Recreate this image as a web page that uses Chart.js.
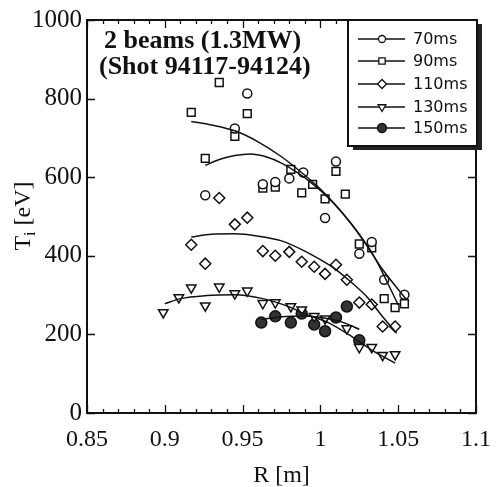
<!DOCTYPE html>
<html>
<head>
<meta charset="utf-8">
<script src="https://cdn.jsdelivr.net/npm/chart.js@4.4.1/dist/chart.umd.min.js"></script>
<style>
  html, body { margin: 0; padding: 0; background: #fff; }
  #wrap { width: 503px; height: 487px; }
</style>
</head>
<body>
<div id="wrap"><canvas id="tiChart" width="503" height="487"></canvas></div>
<script>
// measured points, R [m] and Ti [eV]
var r70 = [0.926, 0.945, 0.953, 0.963, 0.971, 0.980, 0.989, 1.003, 1.010, 1.025, 1.033, 1.041, 1.054];
var t70 = [554, 724, 813, 582, 588, 597, 612, 496, 640, 405, 435, 339, 301];

var r90 = [0.917, 0.926, 0.935, 0.945, 0.953, 0.963, 0.971, 0.981, 0.988, 0.995, 1.003, 1.010, 1.016, 1.025, 1.033, 1.041, 1.048, 1.054];
var t90 = [765, 648, 841, 704, 762, 572, 575, 620, 560, 582, 545, 615, 557, 430, 420, 291, 268, 278];

var r110 = [0.917, 0.926, 0.935, 0.945, 0.953, 0.963, 0.971, 0.980, 0.988, 0.996, 1.003, 1.010, 1.017, 1.025, 1.033, 1.040, 1.048];
var t110 = [428, 380, 547, 480, 497, 412, 400, 410, 385, 372, 354, 377, 339, 281, 276, 220, 220];

var r130 = [0.899, 0.909, 0.917, 0.926, 0.935, 0.945, 0.953, 0.963, 0.971, 0.981, 0.988, 0.996, 1.003, 1.017, 1.025, 1.033, 1.040, 1.048];
var t130 = [256, 294, 319, 273, 321, 304, 311, 279, 281, 271, 263, 246, 240, 215, 167, 167, 147, 149];

var r150 = [0.962, 0.971, 0.981, 0.988, 0.996, 1.003, 1.010, 1.017, 1.025];
var t150 = [230, 246, 230, 253, 225, 208, 243, 271, 185];

// fitted curves
var fitR70 = [0.917, 0.930, 0.945, 0.960, 0.975, 0.990, 1.000, 1.010, 1.020, 1.030, 1.040, 1.055];
var fitT70 = [742, 733, 718, 690, 652, 605, 570, 528, 480, 425, 365, 290];
var fitR90 = [0.926, 0.935, 0.945, 0.955, 0.965, 0.975, 0.985, 0.995, 1.005, 1.015, 1.025, 1.035, 1.050];
var fitT90 = [630, 645, 655, 659, 652, 636, 612, 583, 548, 505, 455, 395, 275];
var fitR110 = [0.917, 0.930, 0.945, 0.960, 0.975, 0.990, 1.000, 1.010, 1.020, 1.030, 1.040, 1.049];
var fitT110 = [448, 455, 456, 450, 438, 412, 390, 365, 332, 295, 245, 203];
var fitR130 = [0.900, 0.910, 0.927, 0.945, 0.963, 0.980, 0.990, 1.005, 1.020, 1.033, 1.048];
var fitT130 = [278, 291, 299, 301, 291, 270, 252, 230, 195, 160, 127];
var fitR150 = [0.962, 0.975, 0.990, 1.005, 1.015, 1.025];
var fitT150 = [238, 245, 247, 240, 230, 213];

var labels = ['70ms', '90ms', '110ms', '130ms', '150ms'];
var xTickVals = [0.85, 0.9, 0.95, 1, 1.05, 1.1];
var xTickText = ['0.85', '0.9', '0.95', '1', '1.05', '1.1'];
var yTickVals = [0, 200, 400, 600, 800, 1000];

var pts = function(rs, ts) {
  var out = [];
  for (var i = 0; i < rs.length; i++) out.push({x: rs[i], y: ts[i]});
  return out;
};

var markerStyle = [
  {pointStyle: 'circle', radius: 4.5, fill: '#fff', rot: 0},
  {pointStyle: 'rect', radius: 5.5, fill: '#fff', rot: 0},
  {pointStyle: 'rectRot', radius: 5.5, fill: '#fff', rot: 0},
  {pointStyle: 'triangle', radius: 5.5, fill: '#fff', rot: 180},
  {pointStyle: 'circle', radius: 5.5, fill: '#333', rot: 0}
];

var datasets = [];
var series = [[r70, t70], [r90, t90], [r110, t110], [r130, t130], [r150, t150]];
var fits = [[fitR70, fitT70], [fitR90, fitT90], [fitR110, fitT110], [fitR130, fitT130], [fitR150, fitT150]];
for (var k = 0; k < series.length; k++) {
  datasets.push({
    label: labels[k] + ' fit',
    data: pts(fits[k][0], fits[k][1]),
    showLine: true,
    borderColor: '#111',
    borderWidth: 1.5,
    pointRadius: 0,
    cubicInterpolationMode: 'monotone',
    fill: false
  });
}
for (var k = 0; k < series.length; k++) {
  var m = markerStyle[k];
  datasets.push({
    label: labels[k],
    data: pts(series[k][0], series[k][1]),
    showLine: false,
    pointStyle: m.pointStyle,
    pointRadius: m.radius,
    pointRotation: m.rot,
    pointBackgroundColor: m.fill,
    pointBorderColor: '#111',
    pointBorderWidth: 1.5
  });
}

var serif = "'Liberation Serif', 'Times New Roman', serif";

// frame, inward ticks, legend box and texts
var decorations = {
  id: 'decorations',
  afterDraw: function(chart) {
    var ctx = chart.ctx;
    var a = chart.chartArea;
    var xs = chart.scales.x, ys = chart.scales.y;
    ctx.save();
    ctx.strokeStyle = '#111';
    ctx.lineWidth = 2;
    ctx.strokeRect(a.left, a.top, a.right - a.left, a.bottom - a.top);

    ctx.lineWidth = 1.3;
    ctx.beginPath();
    for (var i = 85; i <= 110; i++) {
      var px = Math.round(xs.getPixelForValue(i / 100)) + 0.5;
      var len = (i % 5 == 0) ? 8 : 4;
      ctx.moveTo(px, a.bottom); ctx.lineTo(px, a.bottom - len);
      ctx.moveTo(px, a.top); ctx.lineTo(px, a.top + len);
    }
    for (var j = 0; j < yTickVals.length; j++) {
      var py = Math.round(ys.getPixelForValue(yTickVals[j])) + 0.5;
      ctx.moveTo(a.left, py); ctx.lineTo(a.left + 8, py);
      ctx.moveTo(a.right, py); ctx.lineTo(a.right - 8, py);
    }
    ctx.stroke();

    // inner title
    ctx.fillStyle = '#111';
    ctx.font = "bold 26px " + serif;
    ctx.textAlign = 'left';
    ctx.textBaseline = 'alphabetic';
    ctx.fillText('2 beams (1.3MW)', 104, 48);
    ctx.fillText('(Shot 94117-94124)', 99, 74);

    // legend
    var bx = 348, by = 20, bw = 129, bh = 126;
    ctx.fillStyle = '#222';
    ctx.fillRect(bx + 5, by + 4, bw, bh);
    ctx.fillStyle = '#fff';
    ctx.fillRect(bx, by, bw, bh);
    ctx.lineWidth = 2;
    ctx.strokeStyle = '#111';
    ctx.strokeRect(bx, by, bw, bh);
    var rows = [39, 61, 84, 107, 128];
    ctx.font = "16px 'DejaVu Sans', sans-serif";
    ctx.textBaseline = 'middle';
    for (var r = 0; r < rows.length; r++) {
      var ds = chart.data.datasets[5 + r];
      ctx.lineWidth = 1.3;
      ctx.beginPath();
      ctx.moveTo(358, rows[r]); ctx.lineTo(405, rows[r]);
      ctx.stroke();
      ctx.fillStyle = ds.pointBackgroundColor;
      Chart.helpers.drawPoint(ctx, {
        pointStyle: ds.pointStyle,
        rotation: ds.pointRotation,
        radius: ds.pointRadius - 1,
        borderWidth: 1.3
      }, 382, rows[r]);
      ctx.fillStyle = '#111';
      ctx.fillText(ds.label, 413, rows[r] + 1);
    }

    // axis titles
    ctx.fillStyle = '#111';
    ctx.textBaseline = 'alphabetic';
    ctx.font = "24px " + serif;
    ctx.textAlign = 'center';
    ctx.fillText('R [m]', (a.left + a.right) / 2, 482);

    ctx.save();
    ctx.translate(30, 216);
    ctx.rotate(-Math.PI / 2);
    ctx.textAlign = 'left';
    ctx.font = "24px " + serif;
    var wT = ctx.measureText('T').width;
    ctx.font = "16px " + serif;
    var wi = ctx.measureText('i').width;
    ctx.font = "24px " + serif;
    var wRest = ctx.measureText(' [eV]').width;
    var x0 = -(wT + wi + wRest) / 2;
    ctx.fillText('T', x0, 0);
    ctx.font = "16px " + serif;
    ctx.fillText('i', x0 + wT, 5);
    ctx.font = "24px " + serif;
    ctx.fillText(' [eV]', x0 + wT + wi, 0);
    ctx.restore();

    ctx.restore();
  }
};

new Chart(document.getElementById('tiChart').getContext('2d'), {
  type: 'scatter',
  data: { datasets: datasets },
  options: {
    responsive: false,
    animation: false,
    layout: { padding: { left: 0, right: 23, top: 19, bottom: 0 } },
    plugins: {
      legend: { display: false },
      tooltip: { enabled: false }
    },
    scales: {
      x: {
        type: 'linear',
        min: 0.85,
        max: 1.1,
        grid: { display: false, drawTicks: false },
        border: { display: false },
        afterBuildTicks: function(scale) {
          scale.ticks = xTickVals.map(function(v) { return {value: v}; });
        },
        afterFit: function(scale) { scale.height = 74; },
        ticks: {
          color: '#111',
          padding: 12,
          maxRotation: 0,
          font: { family: serif, size: 24 },
          callback: function(v) {
            var idx = xTickVals.indexOf(Math.round(v * 100) / 100);
            return idx >= 0 ? xTickText[idx] : '';
          }
        }
      },
      y: {
        type: 'linear',
        min: 0,
        max: 1000,
        grid: { display: false, drawTicks: false },
        border: { display: false },
        afterBuildTicks: function(scale) {
          scale.ticks = yTickVals.map(function(v) { return {value: v}; });
        },
        afterFit: function(scale) { scale.width = 87; },
        ticks: {
          color: '#111',
          padding: 5,
          font: { family: serif, size: 25 },
          callback: function(v) { return String(v); }
        }
      }
    }
  },
  plugins: [decorations]
});
</script>
</body>
</html>
